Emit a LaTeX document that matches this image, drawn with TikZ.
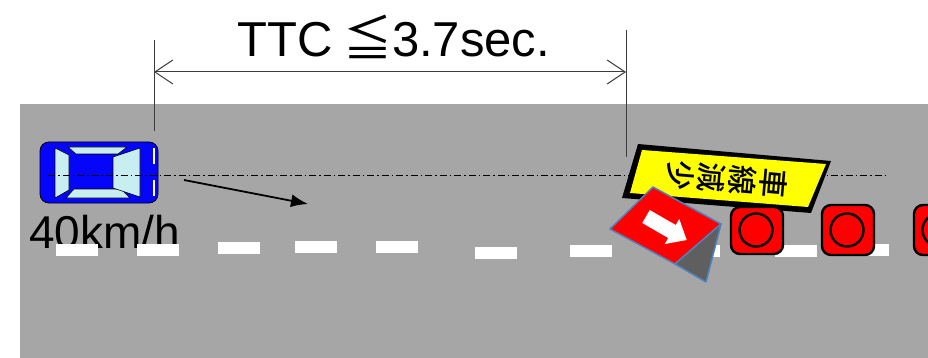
\documentclass[tikz,border=0pt]{standalone}
\usepackage{fontspec}
\setmainfont{Liberation Sans}
\newfontfamily\jpfont{Noto Sans CJK JP}
\newfontfamily\jpsignfont{Noto Sans CJK JP Medium}
\usetikzlibrary{arrows.meta}
\definecolor{roadgray}{RGB}{166,166,166}
\definecolor{carblue}{RGB}{5,5,250}
\definecolor{glass}{RGB}{200,238,242}
\definecolor{signedge}{RGB}{79,129,189}
\definecolor{signred}{RGB}{255,0,0}
\definecolor{signback}{RGB}{95,95,95}
\definecolor{signyellow}{RGB}{255,255,0}
\definecolor{dimgray}{RGB}{60,60,60}
\begin{document}
\begin{tikzpicture}[x=1pt,y=-1pt,
  lanemark/.style={fill=white},
  glasspane/.style={fill=glass,draw=black,line width=0.6pt,line join=round},
  headlamp/.style={draw=white,line width=1.6pt},
  centerline/.style={draw=black,line width=0.8pt,dash pattern=on 7pt off 3pt on 1.5pt off 3pt},
  dimline/.style={draw=dimgray,line width=1pt},
  dimarrow/.style={dimline,{Straight Barb[length=18pt,width=24pt]}-{Straight Barb[length=18pt,width=24pt]}},
  motion/.style={draw=black,line width=1.8pt,-{Latex[length=17pt,width=13pt]}},
  cone/.style={fill=signred,draw=black,line width=2.4pt,rounded corners=9pt},
  conering/.style={draw=black,line width=2.4pt},
  label/.style={inner sep=0pt,text=black}]
\useasboundingbox (0,0) rectangle (928,358);
\begin{scope}
\clip (0,0) rectangle (928,358);

% road surface
\fill[roadgray] (20,104) rectangle (940,370);

% speed label (lane markings are painted over its lower edge)
\node[label,anchor=base west,font=\fontsize{46}{50}\selectfont] (speed) at (29,248) {40km/h};

% lane markings
\foreach \xa/\ya in {56/244,137/244,218/242,295/241,376/241,475/247,570/245,678/245,775/245,847/244}
  \fill[lanemark] (\xa,\ya) rectangle ++(42,12);

% car seen from above
\draw[fill=carblue,draw=black,line width=0.8pt,rounded corners=9pt] (40,142) rectangle (158,203);
\draw[glasspane] (68,147) -- (127,147) -- (118,154) -- (76,154) -- cycle;
\draw[glasspane] (74,189) -- (121,189) -- (130,198) -- (66,198) -- cycle;
\draw[glasspane] (55,148) -- (69,155) -- (69,190) -- (55,198) -- cycle;
\draw[glasspane] (140,148) -- (113,157) -- (113,188) -- (140,197) -- cycle;
\draw[headlamp] (154,148) -- (154,164);
\draw[headlamp] (154,180) -- (154,196);
\coordinate (car) at (99,172);

% centre line of the car's path
\coordinate (pathstart) at (48,175);
\coordinate (pathend) at (888,175);
\draw[centerline] (pathstart) -- (pathend);

% travel direction
\coordinate (movefrom) at (184,180);
\coordinate (moveto) at (308,204);
\draw[motion] (movefrom) -- (moveto);

% time-to-collision dimension
\coordinate (dimLtop) at (154,40);
\coordinate (dimLbot) at (154,131);
\coordinate (dimRtop) at (626,30);
\coordinate (dimRbot) at (626,157);
\coordinate (dimL) at (154,72);
\coordinate (dimR) at (626,72);
\draw[dimline] (dimLtop) -- (dimLbot);
\draw[dimline] (dimRtop) -- (dimRbot);
\draw[dimarrow] (dimL) -- (dimR);
\node[label,anchor=base,font=\fontsize{49}{52}\selectfont] (ttc) at (394,57) {TTC\hspace{0.2em}{\jpfont ≦}3.7sec.};

% lane-reduction board
\fill[black] (638,144) -- (831,161) -- (811,213) -- (622,198) -- cycle;
\fill[signyellow] (642,150) -- (826,164) -- (808,207) -- (630,193) -- cycle;
\node[label,rotate=-95,align=center,font=\jpsignfont\fontsize{30}{31}\selectfont] (lanesign) at (727,179) {車\\線\\減\\少};

% arrow board
\draw[fill=signred,draw=signedge,line width=1.5pt,line join=round] (653,187) -- (721,224) -- (675,264) -- (610,229) -- cycle;
\draw[fill=signback,draw=signedge,line width=1.5pt,line join=round] (721,224) -- (706,282) -- (675,264) -- cycle;
\begin{scope}[shift={(646,216.5)},rotate=-30]
  \fill[white] (0,-7.5) -- (30,-7.5) -- (30,-14.5) -- (47,0) -- (30,14.5) -- (30,7.5) -- (0,7.5) -- cycle;
\end{scope}

% cones
\foreach \xc/\yt/\yb in {731/207/254,822/205/255,914/205/255}{
  \draw[cone] (\xc,\yt) rectangle (\xc+52,\yb);
  \draw[conering] (\xc+25,230) circle (16.5);
}
\end{scope}
\end{tikzpicture}
\end{document}
